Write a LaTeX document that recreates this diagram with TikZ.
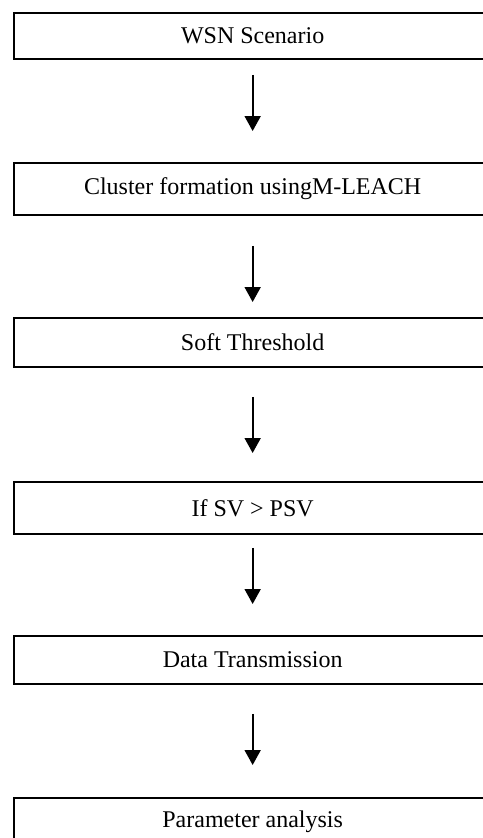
\documentclass[tikz,border=0pt]{standalone}
\usepackage{fontspec}
\setmainfont{Liberation Serif}
\usetikzlibrary{arrows.meta}
\begin{document}
\begin{tikzpicture}[x=1pt,y=-1pt,
  stepbox/.style={draw=black,line width=1.9pt,minimum width=478pt,inner sep=0pt,
    font=\fontsize{24}{28}\selectfont,anchor=north west},
  flow/.style={line width=1.9pt,-{Triangle[length=15pt,width=16pt]}}]
\useasboundingbox (0,0) rectangle (482,838);
\node[stepbox,minimum height=46pt]   (b1) at (12.7,12)    {WSN Scenario};
\node[stepbox,minimum height=52.3pt] (b2) at (12.7,161.7) {Cluster formation usingM-LEACH};
\node[stepbox,minimum height=49pt]   (b3) at (12.7,316.7) {Soft Threshold};
\node[stepbox,minimum height=52.3pt] (b4) at (12.7,480.7) {If SV > PSV};
\node[stepbox,minimum height=47.7pt] (b5) at (12.7,635)   {Data Transmission};
\node[stepbox,minimum height=48pt]   (b6) at (12.7,796.7) {Parameter analysis};
\draw[flow,shorten <=15pt,shorten >=30.7pt]   (b1.south) -- (b2.north);
\draw[flow,shorten <=30pt,shorten >=14.7pt]   (b2.south) -- (b3.north);
\draw[flow,shorten <=29.3pt,shorten >=27.7pt] (b3.south) -- (b4.north);
\draw[flow,shorten <=13pt,shorten >=31pt]     (b4.south) -- (b5.north);
\draw[flow,shorten <=29.3pt,shorten >=31.7pt] (b5.south) -- (b6.north);
\end{tikzpicture}
\end{document}
